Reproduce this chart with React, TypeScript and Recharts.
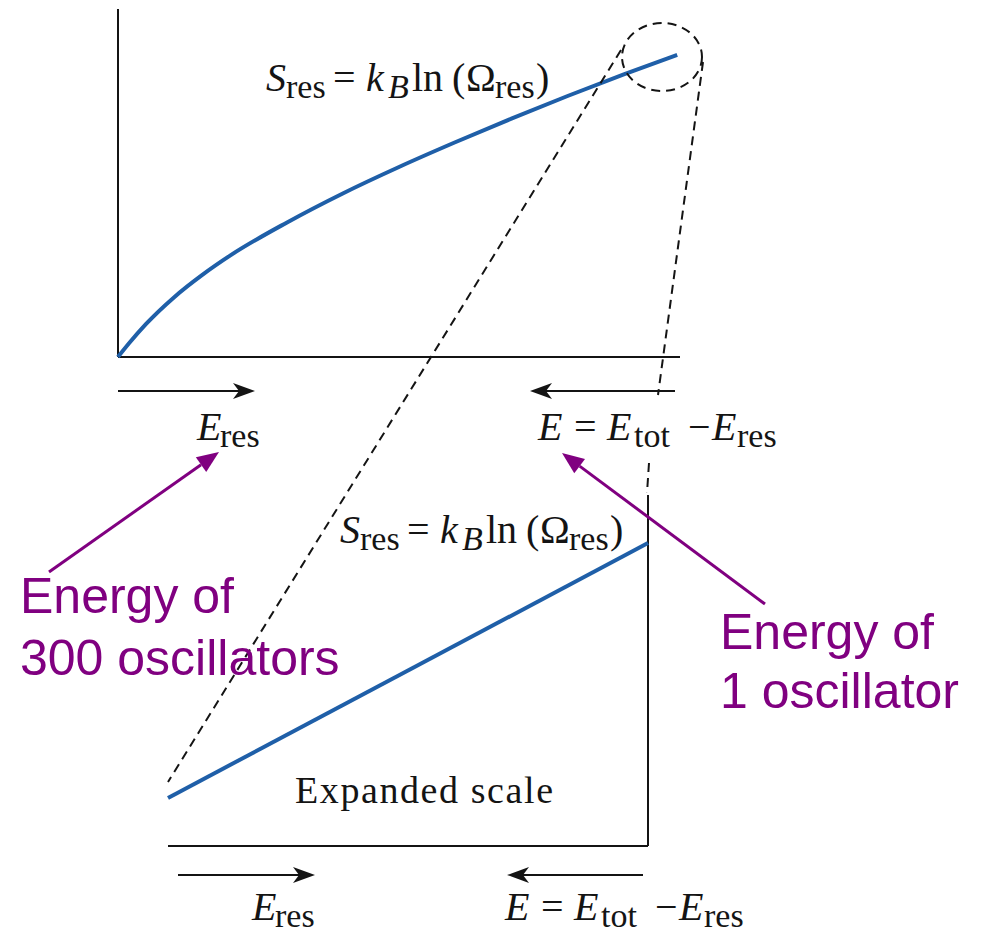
import { Line, LineChart, ReferenceLine, XAxis, YAxis } from "recharts";

// full-range curve S_res(E_res)
const resEnergy = [0, 0.2, 0.5, 1, 1.5, 2, 3, 4, 5, 6, 7, 8, 9, 9.95];
const resEntropy = [0, 0.4, 0.95, 1.72, 2.36, 2.92, 3.86, 4.7, 5.46, 6.17, 6.85, 7.5, 8.12, 8.68];

// zoomed-in piece near E_tot (lower panel), essentially a straight line
const zoomEnergy = [0, 5, 10];
const zoomEntropy = [1.37, 5.0, 8.63];

const domain: [number, number] = [0, 10];

const leftNote = ["Energy of", "300 oscillators"];
const rightNote = ["Energy of", "1 oscillator"];
const zoomCaption = "Expanded scale";

const topData = resEnergy.map((e, i) => ({ e, s: resEntropy[i] }));
const zoomData = zoomEnergy.map((e, i) => ({ e, s: zoomEntropy[i] }));

const BLUE = "#1f5fa8";
const INK = "#141414";
const PURPLE = "#800080";
const SERIF = "'Liberation Serif', 'DejaVu Serif', serif";
const SANS = "'Liberation Sans', Arial, sans-serif";

type Piece = { t: string; dx: number; sub?: boolean; it?: boolean };

const entropyFormula: Piece[] = [
  { t: "S", dx: 0, it: true },
  { t: "res", dx: 20, sub: true },
  { t: "=", dx: 67 },
  { t: "k", dx: 100, it: true },
  { t: "B", dx: 122, sub: true, it: true },
  { t: "ln", dx: 146 },
  { t: "(", dx: 186 },
  { t: "Ω", dx: 200 },
  { t: "res", dx: 229, sub: true },
  { t: ")", dx: 270 },
];

const energyRes: Piece[] = [
  { t: "E", dx: 0, it: true },
  { t: "res", dx: 23, sub: true },
];

const energyRest: Piece[] = [
  { t: "E", dx: 0, it: true },
  { t: "=", dx: 36 },
  { t: "E", dx: 69, it: true },
  { t: "tot", dx: 96, sub: true },
  { t: "−", dx: 150 },
  { t: "E", dx: 174, it: true },
  { t: "res", dx: 199, sub: true },
];

function MathText({ x, y, pieces, size = 40, sub = 34 }: { x: number; y: number; pieces: Piece[]; size?: number; sub?: number }) {
  return (
    <g>
      {pieces.map((p, i) => (
        <text
          key={i}
          x={x + p.dx}
          y={y + (p.sub ? 7 : 0)}
          fontSize={p.sub ? sub : size}
          fontStyle={p.it ? "italic" : "normal"}
          fontFamily={SERIF}
          fill={INK}
        >
          {p.t}
        </text>
      ))}
    </g>
  );
}

// thin black arrow with a barbed head, like the textbook figure
function BlackArrow({ x1, x2, y }: { x1: number; x2: number; y: number }) {
  const d = x2 > x1 ? 1 : -1;
  const head = `M${x2},${y} L${x2 - d * 22},${y - 8} L${x2 - d * 16},${y} L${x2 - d * 22},${y + 8} Z`;
  return (
    <g>
      <line x1={x1} y1={y} x2={x2 - d * 10} y2={y} stroke={INK} strokeWidth={2} />
      <path d={head} fill={INK} />
    </g>
  );
}

function PurpleArrow({ x1, y1, x2, y2 }: { x1: number; y1: number; x2: number; y2: number }) {
  const len = Math.hypot(x2 - x1, y2 - y1);
  const ux = (x2 - x1) / len;
  const uy = (y2 - y1) / len;
  const bx = x2 - ux * 22;
  const by = y2 - uy * 22;
  const pts = `${x2},${y2} ${bx - uy * 9},${by + ux * 9} ${bx + uy * 9},${by - ux * 9}`;
  return (
    <g>
      <line x1={x1} y1={y1} x2={bx} y2={by} stroke={PURPLE} strokeWidth={3} />
      <polygon points={pts} fill={PURPLE} />
    </g>
  );
}

export default function App() {
  const dash = { stroke: INK, strokeWidth: 2, strokeDasharray: "9 6", fill: "none" };
  return (
    <div style={{ position: "absolute", left: 0, top: 0, width: 982, height: 934, background: "#fff", overflow: "hidden" }}>
      <div style={{ position: "absolute", left: 0, top: 0 }}>
        <LineChart width={700} height={380} data={topData} margin={{ top: 9, left: 118, right: 20, bottom: 23 }}>
          <XAxis dataKey="e" type="number" domain={domain} hide />
          <YAxis type="number" domain={domain} hide />
          <ReferenceLine x={0} stroke={INK} strokeWidth={2} />
          <ReferenceLine y={0} stroke={INK} strokeWidth={2} />
          <Line dataKey="s" type="monotone" stroke={BLUE} strokeWidth={4} dot={false} isAnimationActive={false} />
        </LineChart>
      </div>
      <div style={{ position: "absolute", left: 0, top: 0 }}>
        <LineChart width={700} height={870} data={zoomData} margin={{ top: 495, left: 168, right: 52, bottom: 24 }}>
          <XAxis dataKey="e" type="number" domain={domain} hide />
          <YAxis type="number" domain={domain} hide />
          <ReferenceLine x={10} stroke={INK} strokeWidth={2} />
          <ReferenceLine y={0} stroke={INK} strokeWidth={2} />
          <Line dataKey="s" type="linear" stroke={BLUE} strokeWidth={4} dot={false} isAnimationActive={false} />
        </LineChart>
      </div>
      <svg width={982} height={934} style={{ position: "absolute", left: 0, top: 0, pointerEvents: "none" }}>
        {/* magnifier: circle round the end of the curve and its two guide lines */}
        <ellipse cx={662} cy={57} rx={40} ry={34} {...dash} />
        <line x1={621} y1={50} x2={168} y2={782} {...dash} />
        <line x1={703} y1={62} x2={658} y2={395} {...dash} />
        <line x1={649} y1={463} x2={647} y2={493} {...dash} />

        <MathText x={266} y={91} pieces={entropyFormula} />
        <MathText x={340} y={543} pieces={entropyFormula} />

        <BlackArrow x1={118} x2={255} y={391} />
        <BlackArrow x1={675} x2={530} y={391} />
        <MathText x={197} y={440} pieces={energyRes} />
        <MathText x={538} y={440} pieces={energyRest} />

        <text x={295} y={803} fontSize={38} fontFamily={SERIF} fill={INK} textLength={258} lengthAdjust="spacing">
          {zoomCaption}
        </text>

        <BlackArrow x1={178} x2={315} y={875} />
        <BlackArrow x1={643} x2={507} y={875} />
        <MathText x={252} y={920} pieces={energyRes} />
        <MathText x={505} y={920} pieces={energyRest} />

        <PurpleArrow x1={49} y1={572} x2={219} y2={452} />
        <PurpleArrow x1={765} y1={604} x2={562} y2={453} />
        {leftNote.map((t, i) => (
          <text key={t} x={20} y={613 + i * 62} fontSize={50} fontFamily={SANS} fill={PURPLE}>
            {t}
          </text>
        ))}
        {rightNote.map((t, i) => (
          <text key={t} x={720} y={649 + i * 59} fontSize={50} fontFamily={SANS} fill={PURPLE}>
            {t}
          </text>
        ))}
      </svg>
    </div>
  );
}
